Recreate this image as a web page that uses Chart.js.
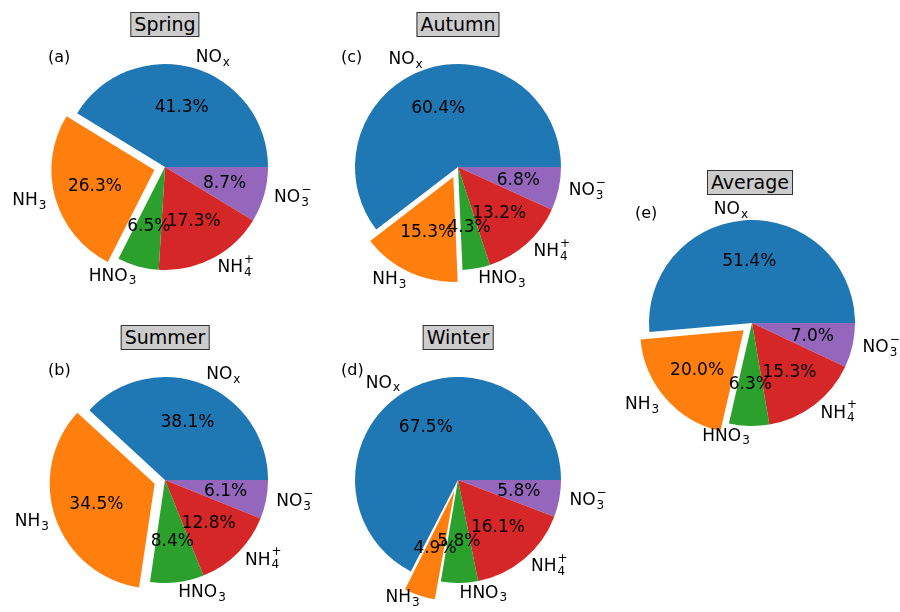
<!DOCTYPE html>
<html><head><meta charset="utf-8">
<script src="https://cdn.jsdelivr.net/npm/chart.js@4"></script>
<style>
body{margin:0;width:900px;height:612px;overflow:hidden;background:#fff;font-family:"DejaVu Sans",sans-serif;position:relative}
canvas{position:absolute}
.t{position:absolute;transform:translateX(-50%);font-size:19px;background:#cccccc;border:1px solid #333;padding:0 3px;line-height:23px;z-index:2}
.l{position:absolute;font-size:16px;z-index:2}
</style></head><body>
<script>
// order as in the figure (counter-clockwise from 3 o'clock)
var species = ["NOx", "NH3", "HNO3", "NH4+", "NO3-"];
var colors = ["#1f77b4", "#ff7f0e", "#2ca02c", "#d62728", "#9467bd"];
var spring = [41.3, 26.3, 6.5, 17.3, 8.7];
var summer = [38.1, 34.5, 8.4, 12.8, 6.1];
var autumn = [60.4, 15.3, 4.3, 13.2, 6.8];
var winter = [67.5, 4.9, 5.8, 16.1, 5.8];
var average = [51.4, 20.0, 6.3, 15.3, 7.0];

var rich = {
  "NOx": [["NO"], ["x", "sub"]],
  "NH3": [["NH"], ["3", "sub"]],
  "HNO3": [["HNO"], ["3", "sub"]],
  "NH4+": [["NH"], ["4", "sub", "+"]],
  "NO3-": [["NO"], ["3", "sub", "\u2212"]]
};

var panels = [
  {title: "Spring", tag: "(a)", data: spring, cx: 165, cy: 167, tx: 165, ty: 12, lx: 48, ly: 47},
  {title: "Autumn", tag: "(c)", data: autumn, cx: 458, cy: 167, tx: 458, ty: 12, lx: 341, ly: 47},
  {title: "Summer", tag: "(b)", data: summer, cx: 165, cy: 480, tx: 165, ty: 325, lx: 48, ly: 360},
  {title: "Winter", tag: "(d)", data: winter, cx: 458, cy: 480, tx: 458, ty: 325, lx: 341, ly: 360},
  {title: "Average", tag: "(e)", data: average, cx: 752, cy: 323, tx: 750, ty: 170, lx: 635, ly: 203}
];

var R = 103, OFF = 11, W = 360, H = 300;

function drawRich(ctx, parts, x, y, align) {
  var big = "17px 'DejaVu Sans'", small = "12px 'DejaVu Sans'";
  ctx.font = big; var w0 = ctx.measureText(parts[0][0]).width;
  ctx.font = small;
  var s = parts[1];
  var w1 = Math.max(ctx.measureText(s[0]).width, s[2] ? ctx.measureText(s[2]).width : 0);
  var x0 = align === "left" ? x : x - w0 - w1;
  ctx.textAlign = "left"; ctx.textBaseline = "middle"; ctx.fillStyle = "#000";
  ctx.font = big; ctx.fillText(parts[0][0], x0, y);
  ctx.font = small; ctx.fillText(s[0], x0 + w0 + 1, y + 5);
  if (s[2]) ctx.fillText(s[2], x0 + w0 + 1, y - 8);
}

var labelPlugin = {
  id: "labels",
  afterDatasetsDraw: function(chart) {
    var ctx = chart.ctx, arcs = chart.getDatasetMeta(0).data;
    var names = chart.data.labels, vals = chart.data.datasets[0].data, offs = chart.data.datasets[0].offset;
    ctx.save();
    arcs.forEach(function(a, i) {
      var m = (a.startAngle + a.endAngle) / 2, c = Math.cos(m), s = Math.sin(m);
      var sh = offs[i] ? OFF : 0;
      ctx.font = "17px 'DejaVu Sans'"; ctx.fillStyle = "#000";
      ctx.textAlign = "center"; ctx.textBaseline = "middle";
      ctx.fillText(vals[i].toFixed(1) + "%", a.x + (sh + 0.6 * R) * c, a.y + (sh + 0.6 * R) * s);
      drawRich(ctx, rich[names[i]], a.x + (sh + 1.1 * R) * c, a.y + (sh + 1.1 * R) * s, c >= 0 ? "left" : "right");
    });
    ctx.restore();
  }
};

panels.forEach(function(p) {
  var cv = document.createElement("canvas");
  cv.width = W; cv.height = H;
  cv.style.left = (p.cx - W / 2) + "px"; cv.style.top = (p.cy - H / 2) + "px";
  cv.style.width = W + "px"; cv.style.height = H + "px";
  document.body.appendChild(cv);
  var t = document.createElement("div"); t.className = "t"; t.textContent = p.title;
  t.style.left = p.tx + "px"; t.style.top = p.ty + "px"; document.body.appendChild(t);
  var l = document.createElement("div"); l.className = "l"; l.textContent = p.tag;
  l.style.left = p.lx + "px"; l.style.top = p.ly + "px"; document.body.appendChild(l);
  var order = [4, 3, 2, 1, 0]; // clockwise drawing, reversed
  new Chart(cv, {
    type: "pie",
    data: {
      labels: order.map(function(i) { return species[i]; }),
      datasets: [{
        data: order.map(function(i) { return p.data[i]; }),
        backgroundColor: order.map(function(i) { return colors[i]; }),
        offset: order.map(function(i) { return i === 1 ? OFF * 4 : 0; }),
        borderWidth: 0,
        radius: R
      }]
    },
    options: {
      responsive: false, animation: false, rotation: 90,
      layout: {padding: 0},
      plugins: {legend: {display: false}, tooltip: {enabled: false}}
    },
    plugins: [labelPlugin]
  });
});
</script>
</body></html>
